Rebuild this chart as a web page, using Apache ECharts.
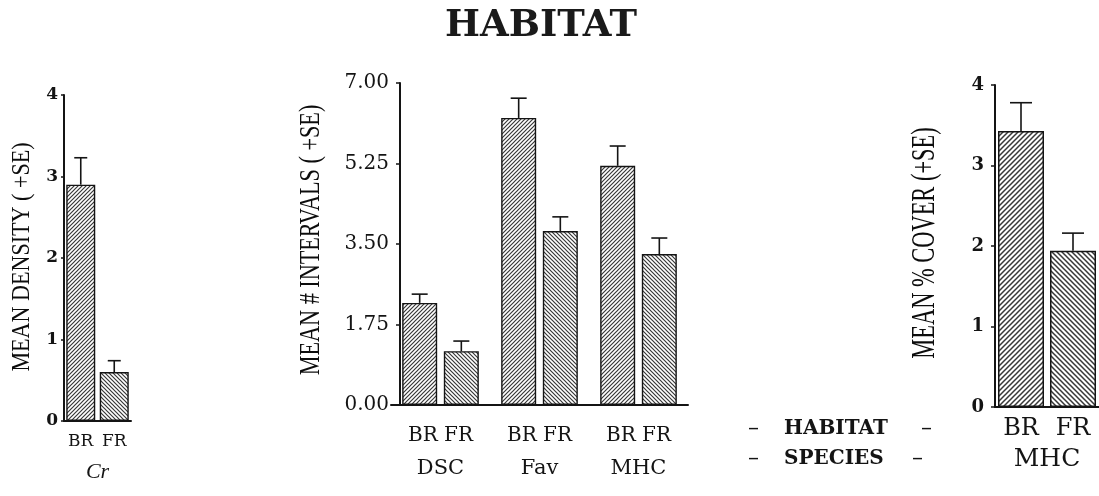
<!DOCTYPE html>
<html>
<head>
<meta charset="utf-8">
<script src="https://cdn.jsdelivr.net/npm/echarts@6/dist/echarts.min.js"></script>
<style>
  html, body { margin: 0; padding: 0; background: #fff; }
  #chart { width: 1099px; height: 496px; }
</style>
</head>
<body>
<div id="chart"></div>
<script>
// Panel 1: density of Cr by habitat
const densityCats = ['BR', 'FR'];
const densityMean = [2.9, 0.6];
const densitySE = [0.33, 0.14];
const densityTicks = [0, 1, 2, 3, 4];

// Panel 2: number of intervals per species, grouped by habitat
const speciesCats = ['DSC', 'Fav', 'MHC'];
const intervalsBR = [2.22, 6.24, 5.2];
const intervalsBRSE = [0.19, 0.43, 0.43];
const intervalsFR = [1.17, 3.78, 3.28];
const intervalsFRSE = [0.22, 0.31, 0.35];
const intervalTicks = ['0.00', '1.75', '3.50', '5.25', '7.00'];

// Panel 3: percent cover of MHC by habitat
const coverCats = ['BR', 'FR'];
const coverMean = [3.43, 1.94];
const coverSE = [0.35, 0.22];
const coverTicks = [0, 1, 2, 3, 4];

const axisTitles = ['MEAN DENSITY ( +SE)', 'MEAN # INTERVALS ( +SE)', 'MEAN % COVER (+SE)'];

const SERIF = 'DejaVu Serif';
const NAME_SERIF = 'Liberation Serif';
const INK = '#141414';

// diagonal hatch fill: '/' for BR, '\\' for FR
function hatch(dir, size, width) {
  const c = document.createElement('canvas');
  c.width = c.height = size;
  const g = c.getContext('2d');
  g.fillStyle = '#ffffff';
  g.fillRect(0, 0, size, size);
  g.strokeStyle = '#383838';
  g.lineWidth = width;
  g.beginPath();
  if (dir === '/') {
    g.moveTo(-1, size + 1); g.lineTo(size + 1, -1);
    g.moveTo(-1, 1); g.lineTo(1, -1);
    g.moveTo(size - 1, size + 1); g.lineTo(size + 1, size - 1);
  } else {
    g.moveTo(-1, -1); g.lineTo(size + 1, size + 1);
    g.moveTo(size - 1, -1); g.lineTo(size + 1, 1);
    g.moveTo(-1, size - 1); g.lineTo(1, size + 1);
  }
  g.stroke();
  return { image: c, repeat: 'repeat' };
}
const fillBR = hatch('/', 4, 1.2);
const fillFR = hatch('\\', 4, 1.2);
const fillBRWide = hatch('/', 5, 1.5);
const fillFRWide = hatch('\\', 5, 1.5);

// error bar: vertical stem from mean to mean+SE with a cap on top
function errorBar(capWidth, dx) {
  return function (params, api) {
    const cat = api.value(0);
    const base = api.coord([cat, api.value(1)]);
    const top = api.coord([cat, api.value(1) + api.value(2)]);
    const x = base[0] + (dx || 0);
    const style = { stroke: INK, lineWidth: 1.6 };
    return {
      type: 'group',
      children: [
        { type: 'line', shape: { x1: x, y1: base[1], x2: x, y2: top[1] }, style },
        { type: 'line', shape: { x1: x - capWidth / 2, y1: top[1], x2: x + capWidth / 2, y2: top[1] }, style }
      ]
    };
  };
}

// condensed, rotated value-axis title
function axisTitle(text, x, y, size, squeeze) {
  return {
    type: 'text', x, y, rotation: Math.PI / 2, scaleX: squeeze, scaleY: 1,
    style: {
      text, font: size + 'px "' + NAME_SERIF + '"', fill: '#0c0c0c',
      align: 'center', verticalAlign: 'middle'
    }
  };
}

const axisLineStyle = { show: true, lineStyle: { color: INK, width: 2 } };

// grouped bars in panel 2
const P2_BAR = 35;
const P2_GAP = 0.19;
const p2Offset = (P2_BAR * (1 + P2_GAP)) / 2;

const option = {
  backgroundColor: '#ffffff',
  animation: false,
  title: {
    text: 'HABITAT',
    left: 440,
    top: 3,
    textStyle: { fontFamily: SERIF, fontWeight: 'bold', fontSize: 37, color: '#1a1a1a' }
  },
  grid: [
    { left: 64, top: 95, width: 67, height: 326 },
    { left: 391, top: 83, width: 297, height: 322 },
    { left: 995, top: 85, width: 112, height: 322 }
  ],
  xAxis: [
    {
      gridIndex: 0, type: 'category', data: densityCats,
      axisLine: axisLineStyle, axisTick: { show: false },
      axisLabel: { interval: 0, hideOverlap: false, margin: 12, fontFamily: SERIF, fontSize: 17, color: INK },
      name: 'Cr', nameLocation: 'middle', nameGap: 40,
      nameTextStyle: { fontFamily: NAME_SERIF, fontStyle: 'italic', fontSize: 22, color: INK }
    },
    {
      gridIndex: 1, type: 'category', data: speciesCats,
      axisLine: axisLineStyle, axisTick: { show: false },
      axisLabel: {
        interval: 0, margin: 14,
        formatter: (v) => '{s|BR FR}\n{h|' + v + '}',
        rich: {
          s: { fontFamily: SERIF, fontSize: 20, lineHeight: 33, color: INK },
          h: { fontFamily: SERIF, fontSize: 21, lineHeight: 33, color: INK }
        }
      }
    },
    {
      gridIndex: 2, type: 'category', data: coverCats,
      axisLine: axisLineStyle, axisTick: { show: false },
      axisLabel: { interval: 0, hideOverlap: false, margin: 10, fontFamily: SERIF, fontSize: 24, color: INK },
      name: 'MHC', nameLocation: 'middle', nameGap: 40,
      nameTextStyle: { fontFamily: SERIF, fontSize: 25, color: INK }
    }
  ],
  yAxis: [
    {
      gridIndex: 0, type: 'value', min: densityTicks[0], max: densityTicks[densityTicks.length - 1], interval: 1,
      axisLine: axisLineStyle, axisTick: { show: true, length: 3, lineStyle: { color: INK, width: 1.5 } },
      splitLine: { show: false },
      axisLabel: { margin: 6, fontFamily: SERIF, fontWeight: 'bold', fontSize: 17, color: INK }
    },
    {
      gridIndex: 1, type: 'value', min: 0, max: 7, interval: 1.75, offset: -9,
      axisLine: axisLineStyle, axisTick: { show: true, length: 4, lineStyle: { color: INK, width: 1.5 } },
      splitLine: { show: false },
      axisLabel: {
        margin: 11, fontFamily: SERIF, fontSize: 20, color: INK,
        formatter: (v) => intervalTicks[Math.round(v / 1.75)]
      }
    },
    {
      gridIndex: 2, type: 'value', min: coverTicks[0], max: coverTicks[coverTicks.length - 1], interval: 1,
      axisLine: axisLineStyle, axisTick: { show: true, length: 4, lineStyle: { color: INK, width: 1.5 } },
      splitLine: { show: false },
      axisLabel: { margin: 11, fontFamily: SERIF, fontWeight: 'bold', fontSize: 18, color: INK }
    }
  ],
  series: [
    {
      type: 'bar', xAxisIndex: 0, yAxisIndex: 0, barWidth: 29,
      data: densityMean.map((v, i) => ({
        value: v,
        itemStyle: { color: i === 0 ? fillBR : fillFR, borderColor: INK, borderWidth: 1.4 }
      }))
    },
    {
      type: 'custom', xAxisIndex: 0, yAxisIndex: 0, z: 5,
      renderItem: errorBar(13),
      data: densityMean.map((v, i) => [i, v, densitySE[i]])
    },
    {
      name: 'BR', type: 'bar', xAxisIndex: 1, yAxisIndex: 1, barWidth: P2_BAR, barGap: (P2_GAP * 100) + '%',
      itemStyle: { color: fillBR, borderColor: INK, borderWidth: 1.4 },
      data: intervalsBR
    },
    {
      name: 'FR', type: 'bar', xAxisIndex: 1, yAxisIndex: 1, barWidth: P2_BAR, barGap: (P2_GAP * 100) + '%',
      itemStyle: { color: fillFR, borderColor: INK, borderWidth: 1.4 },
      data: intervalsFR
    },
    {
      type: 'custom', xAxisIndex: 1, yAxisIndex: 1, z: 5,
      renderItem: errorBar(16, -p2Offset),
      data: intervalsBR.map((v, i) => [i, v, intervalsBRSE[i]])
    },
    {
      type: 'custom', xAxisIndex: 1, yAxisIndex: 1, z: 5,
      renderItem: errorBar(16, p2Offset),
      data: intervalsFR.map((v, i) => [i, v, intervalsFRSE[i]])
    },
    {
      type: 'bar', xAxisIndex: 2, yAxisIndex: 2, barWidth: 46,
      data: coverMean.map((v, i) => ({
        value: v,
        itemStyle: { color: i === 0 ? fillBRWide : fillFRWide, borderColor: INK, borderWidth: 1.5 }
      }))
    },
    {
      type: 'custom', xAxisIndex: 2, yAxisIndex: 2, z: 5,
      renderItem: errorBar(22),
      data: coverMean.map((v, i) => [i, v, coverSE[i]])
    }
  ],
  graphic: [
    axisTitle(axisTitles[0], 22, 257, 26, 0.85),
    axisTitle(axisTitles[1], 311, 240, 30, 0.74),
    axisTitle(axisTitles[2], 925, 243, 33, 0.68),
    { type: 'text', left: 748, top: 418, style: { text: '–', font: '22px "DejaVu Serif"', fill: INK } },
    { type: 'text', left: 784, top: 419, style: { text: 'HABITAT', font: 'bold 20px "DejaVu Serif"', fill: INK } },
    { type: 'text', left: 921, top: 418, style: { text: '–', font: '22px "DejaVu Serif"', fill: INK } },
    { type: 'text', left: 748, top: 448, style: { text: '–', font: '22px "DejaVu Serif"', fill: INK } },
    { type: 'text', left: 784, top: 449, style: { text: 'SPECIES', font: 'bold 20px "DejaVu Serif"', fill: INK } },
    { type: 'text', left: 912, top: 448, style: { text: '–', font: '22px "DejaVu Serif"', fill: INK } }
  ]
};

const chart = echarts.init(document.getElementById('chart'), null, { renderer: 'canvas' });
chart.setOption(option);
</script>
</body>
</html>
